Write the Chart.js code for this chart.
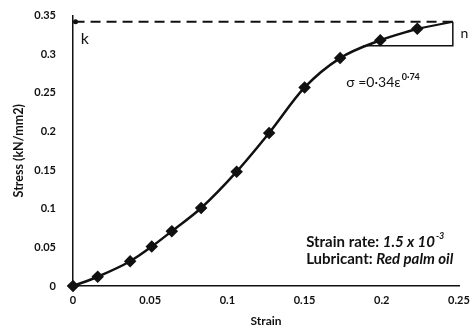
<!DOCTYPE html>
<html>
<head>
<meta charset="utf-8">
<script src="https://cdn.jsdelivr.net/npm/chart.js@4/dist/chart.umd.min.js"></script>
<style>
  html, body { margin: 0; padding: 0; background: #fff; }
  #wrap { width: 474px; height: 328px; }
</style>
</head>
<body>
<div id="wrap"><canvas id="c" width="474" height="328"></canvas></div>
<script>
// Measured flow curve
const strain = [0, 0.016, 0.037, 0.051, 0.064, 0.083, 0.106, 0.127, 0.150, 0.173, 0.199, 0.223];
const stress = [0, 0.012, 0.032, 0.051, 0.071, 0.101, 0.148, 0.198, 0.257, 0.295, 0.318, 0.333];

// Power-law construction: K line and slope triangle
const kValue = 0.342;
const kLineStrain = [0.001, 0.246];
const fitTailStrain = [0.223, 0.246];
const fitTailStress = [0.333, 0.342];
const triStrain = [0.246, 0.246, 0.188];
const triStress = [0.342, 0.311, 0.311];

// Axis ticks
const xTicks = [0, 0.05, 0.1, 0.15, 0.2, 0.25];
const yTicks = [0, 0.05, 0.1, 0.15, 0.2, 0.25, 0.3, 0.35];

const FONT = 'Lato, "Open Sans", sans-serif';
const INK = '#111';

const pts = (xs, ys) => xs.map((x, i) => ({ x, y: ys[i] }));

// Labels drawn in data space
const notes = {
  k: { x: 0.005, y: 0.320 },
  n: { x: 0.251, y: 0.327 },
  formula: { x: 0.177, y: 0.264 },
  rate: { x: 0.151, y: 0.057 },
  lube: { x: 0.151, y: 0.035 },
  kDot: { x: 0.001, y: kValue }
};

const annotate = {
  id: 'annotate',
  afterDatasetsDraw(chart) {
    const { ctx, scales: { x, y } } = chart;
    const px = p => [x.getPixelForValue(p.x), y.getPixelForValue(p.y)];
    ctx.save();
    ctx.fillStyle = INK;
    ctx.textBaseline = 'middle';
    ctx.textAlign = 'left';

    // dot at the K intercept
    let [dx, dy] = px(notes.kDot);
    ctx.beginPath(); ctx.arc(dx + 1, dy, 2.5, 0, Math.PI * 2); ctx.fill();

    ctx.font = '16px ' + FONT;
    let [kx, ky] = px(notes.k);
    ctx.fillText('k', kx, ky);

    ctx.font = '14px ' + FONT;
    let [nx, ny] = px(notes.n);
    ctx.fillText('n', nx, ny);

    // sigma = 0.34 eps^0.74
    let [fx, fy] = px(notes.formula);
    ctx.font = '14px ' + FONT;
    const base = 'σ =0·34ε';
    ctx.fillText(base, fx, fy);
    const w = ctx.measureText(base).width;
    ctx.font = 'bold 9px ' + FONT;
    ctx.fillText('0·74', fx + w + 1, fy - 5);

    // test conditions
    const seg = (txt, font, cx, cy) => { ctx.font = font; ctx.fillText(txt, cx, cy); return cx + ctx.measureText(txt).width; };
    let [rx, ry] = px(notes.rate);
    let cx = seg('Strain rate: ', 'bold 15px ' + FONT, rx, ry);
    cx = seg('1.5 x 10', 'italic bold 15px ' + FONT, cx, ry);
    seg('-3', 'italic bold 9px ' + FONT, cx + 1, ry - 6);

    let [lx, ly] = px(notes.lube);
    cx = seg('Lubricant: ', 'bold 15px ' + FONT, lx, ly);
    seg('Red palm oil', 'italic bold 15px ' + FONT, cx, ly);
    ctx.restore();
  }
};

new Chart(document.getElementById('c'), {
  type: 'scatter',
  data: {
    datasets: [
      {
        data: pts(strain, stress),
        showLine: true,
        clip: false,
        borderColor: INK,
        backgroundColor: INK,
        borderWidth: 2.5,
        cubicInterpolationMode: 'monotone',
        pointStyle: 'rectRot',
        pointRadius: 4.5,
        pointHoverRadius: 4.5
      },
      {
        data: pts(fitTailStrain, fitTailStress),
        showLine: true,
        borderColor: INK,
        borderWidth: 2,
        pointRadius: 0
      },
      {
        data: pts(kLineStrain, [kValue, kValue]),
        showLine: true,
        borderColor: INK,
        borderWidth: 2,
        borderDash: [10, 6],
        pointRadius: 0
      },
      {
        data: pts(triStrain, triStress),
        showLine: true,
        borderColor: INK,
        borderWidth: 1.5,
        pointRadius: 0
      }
    ]
  },
  options: {
    responsive: false,
    animation: false,
    layout: { padding: { left: 0, top: 15, right: 15, bottom: 0 } },
    plugins: { legend: { display: false }, tooltip: { enabled: false } },
    scales: {
      x: {
        type: 'linear',
        min: 0, max: 0.25,
        afterBuildTicks: s => { s.ticks = xTicks.map(v => ({ value: v })); },
        afterFit: s => { s.height = 42; },
        border: { color: INK, width: 1.5 },
        grid: { display: false, drawTicks: true, tickLength: 4 },
        ticks: { color: INK, font: { family: FONT, size: 11, weight: 'bold' }, padding: 4, maxRotation: 0,
                 callback: v => String(v) },
        title: { display: true, text: 'Strain', color: INK, font: { family: FONT, size: 12, weight: 'bold' }, padding: { top: 0, bottom: 0 } }
      },
      y: {
        type: 'linear',
        min: 0, max: 0.35,
        afterBuildTicks: s => { s.ticks = yTicks.map(v => ({ value: v })); },
        afterFit: s => { s.width = 73; },
        border: { color: INK, width: 1.5 },
        grid: { display: false },
        ticks: { color: INK, font: { family: FONT, size: 11, weight: 'bold' }, padding: 9,
                 callback: v => String(v) },
        title: { display: true, text: 'Stress (kN/mm2)', color: INK, font: { family: FONT, size: 12.5, weight: 'bold' }, padding: { top: 11, bottom: 0 } }
      }
    }
  },
  plugins: [annotate]
});
</script>
</body>
</html>
